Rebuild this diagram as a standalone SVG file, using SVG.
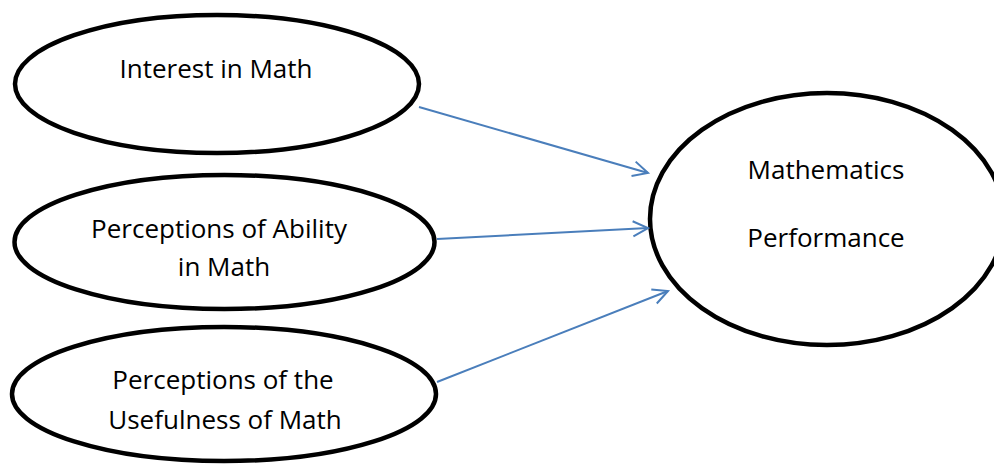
<svg xmlns="http://www.w3.org/2000/svg" width="994" height="464" viewBox="0 0 994 464">
<style>
.node{fill:#fff;stroke:#000;stroke-width:4.5}
.lbl{font-family:"Open Sans","Liberation Sans",sans-serif;font-size:26px;fill:#000;text-anchor:middle}
.edge{fill:none;stroke:#4a7ebb;stroke-width:2;marker-end:url(#arr)}
</style>
<defs>
<marker id="arr" viewBox="0 0 20 20" refX="17" refY="10" markerWidth="20" markerHeight="20" markerUnits="userSpaceOnUse" orient="auto">
<path d="M2,2.5 L17,10 L2,17.5" fill="none" stroke="#4a7ebb" stroke-width="2"/>
</marker>
</defs>
<rect width="994" height="464" fill="#fff"/>
<g id="interest">
<ellipse class="node" cx="217" cy="84" rx="202" ry="69"/>
<text class="lbl" x="216" y="78">Interest in Math</text>
</g>
<g id="ability">
<ellipse class="node" cx="224.5" cy="242" rx="210" ry="67"/>
<text class="lbl" x="219" y="238">Perceptions of Ability</text>
<text class="lbl" x="224" y="276">in Math</text>
</g>
<g id="usefulness">
<ellipse class="node" cx="224" cy="394" rx="212" ry="67"/>
<text class="lbl" x="223" y="389">Perceptions of the</text>
<text class="lbl" x="225" y="429">Usefulness of Math</text>
</g>
<g id="performance">
<ellipse class="node" cx="827" cy="219" rx="177" ry="126"/>
<text class="lbl" x="826" y="179">Mathematics</text>
<text class="lbl" x="826" y="247">Performance</text>
</g>
<g id="connectors">
<line class="edge" x1="419" y1="107" x2="648" y2="173"/>
<line class="edge" x1="437" y1="239" x2="648" y2="228"/>
<line class="edge" x1="437" y1="382" x2="668" y2="291"/>
</g>
</svg>
